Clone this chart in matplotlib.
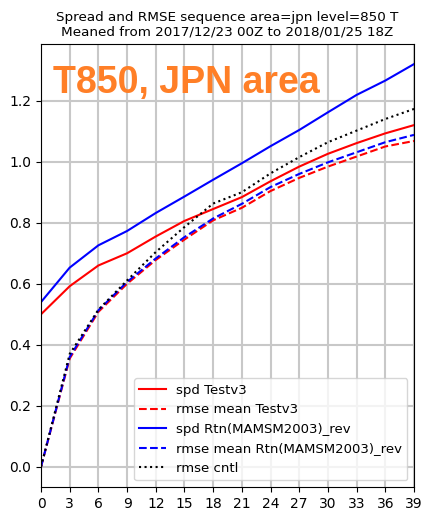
import numpy as np
import matplotlib.pyplot as plt

# forecast time (hours)
ft = [0, 3, 6, 9, 12, 15, 18, 21, 24, 27, 30, 33, 36, 39]

spd_test = [0.50, 0.592, 0.66, 0.70, 0.755, 0.806, 0.845, 0.884, 0.936, 0.984, 1.026, 1.061, 1.093, 1.12]
rmse_test = [0.0, 0.355, 0.508, 0.60, 0.678, 0.745, 0.808, 0.849, 0.904, 0.947, 0.984, 1.017, 1.05, 1.068]
spd_rtn = [0.54, 0.653, 0.726, 0.773, 0.832, 0.886, 0.941, 0.995, 1.051, 1.104, 1.162, 1.219, 1.266, 1.32]
rmse_rtn = [0.0, 0.36, 0.513, 0.606, 0.683, 0.753, 0.814, 0.862, 0.917, 0.96, 0.998, 1.031, 1.064, 1.088]
rmse_cntl = [0.0, 0.37, 0.515, 0.611, 0.704, 0.786, 0.863, 0.90, 0.962, 1.015, 1.064, 1.102, 1.14, 1.173]

fig = plt.figure(figsize=(4.21, 5.11), dpi=100)
ax = fig.add_axes([0.0974, 0.047, 0.886, 0.867])

ax.plot(ft, spd_test, 'r-', label='spd Testv3')
ax.plot(ft, rmse_test, 'r--', label='rmse mean Testv3')
ax.plot(ft, spd_rtn, 'b-', label='spd Rtn(MAMSM2003)_rev')
ax.plot(ft, rmse_rtn, 'b--', label='rmse mean Rtn(MAMSM2003)_rev')
ax.plot(ft, rmse_cntl, 'k:', label='rmse cntl')

ax.set_xlim(0, 39)
ax.set_xticks(ft)
ax.set_yticks(np.arange(0, 1.3, 0.2))
ax.grid(True, color='#c8c8c8', linewidth=1.5)
ax.set_axisbelow(True)
ax.legend(loc='lower right', fontsize=9.5)

ax.set_title('Spread and RMSE sequence area=jpn level=850 T\nMeaned from 2017/12/23 00Z to 2018/01/25 18Z',
             fontsize=9.7)

fig.text(0.126, 0.818, 'T850, JPN area', color='#ff7f27', fontsize=27,
         fontweight='bold', family='Liberation Sans')

plt.savefig('out.png', dpi=100)
